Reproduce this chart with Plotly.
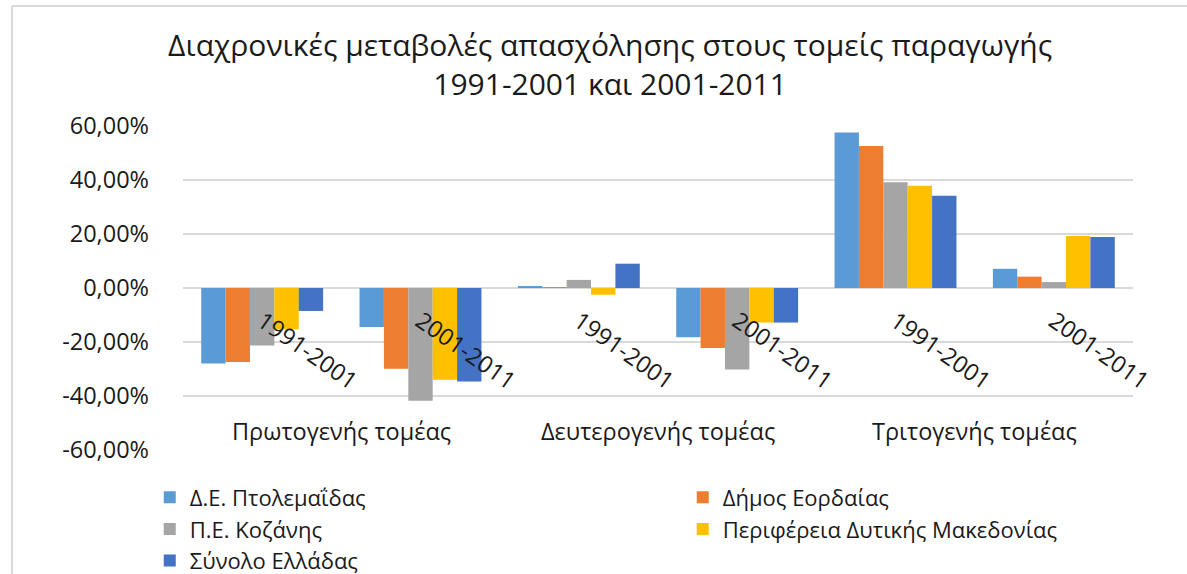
import plotly.graph_objects as go

sectors = ["Πρωτογενής τομέας", "Δευτερογενής τομέας", "Τριτογενής τομέας"]
periods = ["1991-2001", "2001-2011"]

series_names = [
    "Δ.Ε. Πτολεμαΐδας",
    "Δήμος Εορδαίας",
    "Π.Ε. Κοζάνης",
    "Περιφέρεια Δυτικής Μακεδονίας",
    "Σύνολο Ελλάδας",
]
ptolemaida = [-28.0, -14.4, 0.5, -18.2, 57.6, 7.1]
eordaia = [-27.4, -29.9, 0.3, -22.2, 52.6, 4.2]
kozani = [-21.3, -41.8, 3.0, -30.2, 39.2, 2.2]
dyt_makedonia = [-15.3, -34.0, -2.5, -12.8, 37.9, 19.3]
ellada = [-8.5, -34.6, 9.0, -12.8, 34.2, 18.9]
series_values = [ptolemaida, eordaia, kozani, dyt_makedonia, ellada]
colors = ["#5B9BD5", "#ED7D31", "#A5A5A5", "#FFC000", "#4472C4"]

y_ticks = [60, 40, 20, 0, -20, -40, -60]
y_ticktext = ["60,00%", "40,00%", "20,00%", "0,00%", "-20,00%", "-40,00%", "-60,00%"]

cat_ids = [f"{s} {p}" for s in sectors for p in periods]
cat_labels = [p for s in sectors for p in periods]

FONT = "Open Sans"
TXT = "#1a1a1a"
FS = 23.5

fig = go.Figure()
for name, vals, col in zip(series_names, series_values, colors):
    fig.add_trace(go.Bar(x=cat_ids, y=vals, name=name, marker=dict(color=col, line=dict(width=0))))

# sector labels under pairs of categories
for i, s in enumerate(sectors):
    fig.add_annotation(x=2 * i + 0.5, y=-53, xref="x", yref="y", text=s,
                       showarrow=False, font=dict(family=FONT, size=FS, color=TXT))

fig.update_layout(
    width=1187, height=574,
    margin=dict(l=183, r=54, t=126, b=124, autoexpand=False),
    paper_bgcolor="white", plot_bgcolor="white",
    barmode="group", bargap=0.23, bargroupgap=0,
    title=dict(text="Διαχρονικές μεταβολές απασχόλησης στους τομείς παραγωγής<br>1991-2001 και 2001-2011",
               x=0.514, xanchor="center", y=0.9025, yanchor="top",
               font=dict(family=FONT, size=30, color=TXT)),
    font=dict(family=FONT, color=TXT),
    showlegend=True,
    legend=dict(orientation="h", x=-0.035, xanchor="left", y=-0.082, yanchor="top",
                entrywidth=488, entrywidthmode="pixels",
                font=dict(family=FONT, size=22, color=TXT),
                itemwidth=30, tracegroupgap=0),
    shapes=[dict(type="line", xref="paper", yref="paper", x0=-0.18, x1=1.1, y0=1.37, y1=1.37,
                 line=dict(color="#d9d9d9", width=2)),
            dict(type="line", xref="paper", yref="paper", x0=-0.18, x1=-0.18, y0=1.37, y1=-0.5,
                 line=dict(color="#d9d9d9", width=2))],
)
fig.update_xaxes(type="category", tickvals=cat_ids, ticktext=cat_labels, tickangle=35,
                 anchor="free", position=0.5, showgrid=False, zeroline=False, showline=False,
                 ticks="", ticklabelstandoff=14,
                 tickfont=dict(family=FONT, size=FS, color=TXT))
fig.update_yaxes(range=[-60, 60], tickvals=y_ticks, ticktext=y_ticktext,
                 showgrid=True, gridcolor="#d9d9d9", gridwidth=2, zeroline=False,
                 ticks="", ticklabelstandoff=33,
                 tickfont=dict(family=FONT, size=FS, color=TXT))

fig.write_html("out.html", config={"displayModeBar": False},
               post_script="document.body.style.margin='0';document.body.style.overflow='hidden';")
